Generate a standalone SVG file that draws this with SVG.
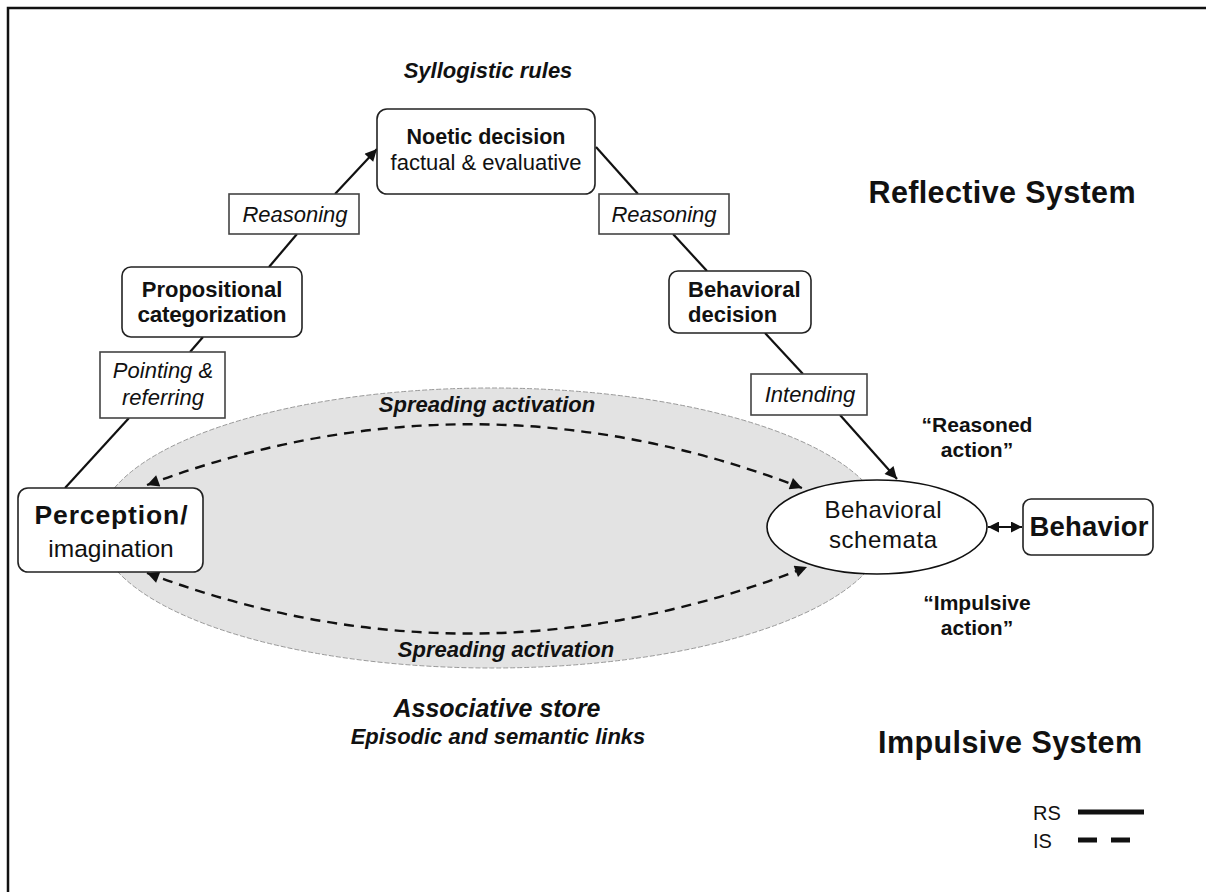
<svg xmlns="http://www.w3.org/2000/svg" width="1206" height="892" viewBox="0 0 1206 892">
  <style>
    text { font-family: "Liberation Sans", Arial, Helvetica, sans-serif; fill: #111; }
    .b { font-weight: bold; }
    .i { font-style: italic; }
    .bi { font-weight: bold; font-style: italic; }
    .node { fill: #fff; stroke: #222; stroke-width: 1.6; }
    .label { fill: #fff; stroke: #444; stroke-width: 1.6; }
    .rs { fill: none; stroke: #111; stroke-width: 2.2; }
    .is { fill: none; stroke: #111; stroke-width: 2.4; stroke-dasharray: 10 7; }
  </style>
  <defs>
    <marker id="head" viewBox="0 0 10 10" refX="10" refY="5" markerUnits="userSpaceOnUse" markerWidth="16" markerHeight="12" orient="auto-start-reverse">
      <path d="M0,0 L10,5 L0,10 z" fill="#111" stroke="none"/>
    </marker>
    <marker id="small" viewBox="0 0 10 10" refX="10" refY="5" markerUnits="userSpaceOnUse" markerWidth="13" markerHeight="11" orient="auto-start-reverse">
      <path d="M0,0 L10,5 L0,10 z" fill="#111" stroke="none"/>
    </marker>
  </defs>

  <!-- frame -->
  <rect x="8" y="8" width="1212" height="900" fill="#fff" stroke="#111" stroke-width="2.5"/>

  <!-- associative store (gray field) -->
  <g id="associative-store">
    <ellipse cx="492" cy="528" rx="394" ry="140" fill="#e3e3e3" stroke="#999" stroke-width="1" stroke-dasharray="5 2"/>
    <text class="bi" x="487" y="412" font-size="22" text-anchor="middle">Spreading activation</text>
    <text class="bi" x="506" y="657" font-size="22" text-anchor="middle">Spreading activation</text>
  </g>

  <!-- connectors -->
  <g id="connectors">
    <line class="rs" x1="65" y1="488" x2="129" y2="418"/>
    <line class="rs" x1="190" y1="352" x2="203" y2="337"/>
    <line class="rs" x1="269" y1="267" x2="297" y2="234"/>
    <line class="rs" x1="335" y1="194" x2="377" y2="149" marker-end="url(#head)"/>
    <line class="rs" x1="596" y1="147" x2="638" y2="194"/>
    <line class="rs" x1="673" y1="234" x2="707" y2="271"/>
    <line class="rs" x1="765" y1="333" x2="803" y2="374"/>
    <line class="rs" x1="840" y1="415" x2="897" y2="479" marker-end="url(#head)"/>
    <line class="rs" x1="988" y1="527" x2="1022" y2="527" marker-start="url(#small)" marker-end="url(#small)"/>
    <path class="is" d="M147,485 Q475,362 802,488" marker-start="url(#head)" marker-end="url(#head)"/>
    <path class="is" d="M147,573 Q475,697 807,567" marker-start="url(#head)" marker-end="url(#head)"/>
  </g>

  <text class="bi" x="488" y="78" font-size="22" text-anchor="middle">Syllogistic rules</text>

  <g id="noetic-decision">
    <rect class="node" x="377" y="109" width="218" height="85" rx="10"/>
    <text class="b" x="486" y="144" font-size="21.5" text-anchor="middle">Noetic decision</text>
    <text x="486" y="170" font-size="22" text-anchor="middle">factual &amp; evaluative</text>
  </g>

  <g id="reasoning-left">
    <rect class="label" x="229" y="194" width="130" height="40"/>
    <text class="i" x="295" y="222" font-size="22" text-anchor="middle">Reasoning</text>
  </g>

  <g id="reasoning-right">
    <rect class="label" x="599" y="194" width="130" height="40"/>
    <text class="i" x="664" y="222" font-size="22" text-anchor="middle">Reasoning</text>
  </g>

  <g id="propositional-categorization">
    <rect class="node" x="122" y="267" width="180" height="70" rx="9"/>
    <text class="b" x="212" y="297" font-size="22" text-anchor="middle">Propositional</text>
    <text class="b" x="212" y="322" font-size="22.5" text-anchor="middle" textLength="149">categorization</text>
  </g>

  <g id="pointing-referring">
    <rect class="label" x="100" y="352" width="125" height="66"/>
    <text class="i" x="163" y="378" font-size="22" text-anchor="middle">Pointing &amp;</text>
    <text class="i" x="163" y="405" font-size="22" text-anchor="middle">referring</text>
  </g>

  <g id="perception">
    <rect class="node" x="18" y="488" width="185" height="84" rx="10"/>
    <text class="b" x="111" y="524" font-size="26.5" text-anchor="middle" textLength="153">Perception/</text>
    <text x="111" y="557" font-size="24.5" text-anchor="middle">imagination</text>
  </g>

  <g id="behavioral-decision">
    <rect class="node" x="669" y="271" width="142" height="62" rx="9"/>
    <text class="b" x="688" y="297" font-size="22">Behavioral</text>
    <text class="b" x="688" y="322" font-size="22">decision</text>
  </g>

  <g id="intending">
    <rect class="label" x="751" y="374" width="116" height="41"/>
    <text class="i" x="810" y="402" font-size="22" text-anchor="middle">Intending</text>
  </g>

  <g id="behavioral-schemata">
    <ellipse cx="877" cy="527" rx="110" ry="47" fill="#fff" stroke="#111" stroke-width="1.6"/>
    <text x="883" y="518" font-size="24" text-anchor="middle" textLength="117">Behavioral</text>
    <text x="883" y="548" font-size="24" text-anchor="middle" textLength="108">schemata</text>
  </g>

  <g id="behavior">
    <rect class="node" x="1023" y="499" width="130" height="56" rx="8"/>
    <text class="b" x="1089" y="536" font-size="27.5" text-anchor="middle" textLength="119">Behavior</text>
  </g>

  <g id="annotations">
    <text class="b" x="977" y="432" font-size="21" text-anchor="middle">“Reasoned</text>
    <text class="b" x="977" y="457" font-size="21" text-anchor="middle">action”</text>
    <text class="b" x="977" y="610" font-size="21" text-anchor="middle">“Impulsive</text>
    <text class="b" x="977" y="635" font-size="21" text-anchor="middle">action”</text>
    <text class="b" x="1002" y="203" font-size="30.5" text-anchor="middle" textLength="267">Reflective System</text>
    <text class="b" x="1010" y="753" font-size="30.5" text-anchor="middle" textLength="264">Impulsive System</text>
    <text class="bi" x="497" y="717" font-size="25" text-anchor="middle">Associative store</text>
    <text class="bi" x="498" y="744" font-size="22" text-anchor="middle">Episodic and semantic links</text>
  </g>

  <g id="legend">
    <text x="1033" y="820" font-size="20">RS</text>
    <line x1="1078" y1="812" x2="1144" y2="812" stroke="#111" stroke-width="5"/>
    <text x="1033" y="848" font-size="20">IS</text>
    <line x1="1078" y1="840" x2="1097" y2="840" stroke="#111" stroke-width="5"/>
    <line x1="1111" y1="840" x2="1130" y2="840" stroke="#111" stroke-width="5"/>
  </g>
</svg>
